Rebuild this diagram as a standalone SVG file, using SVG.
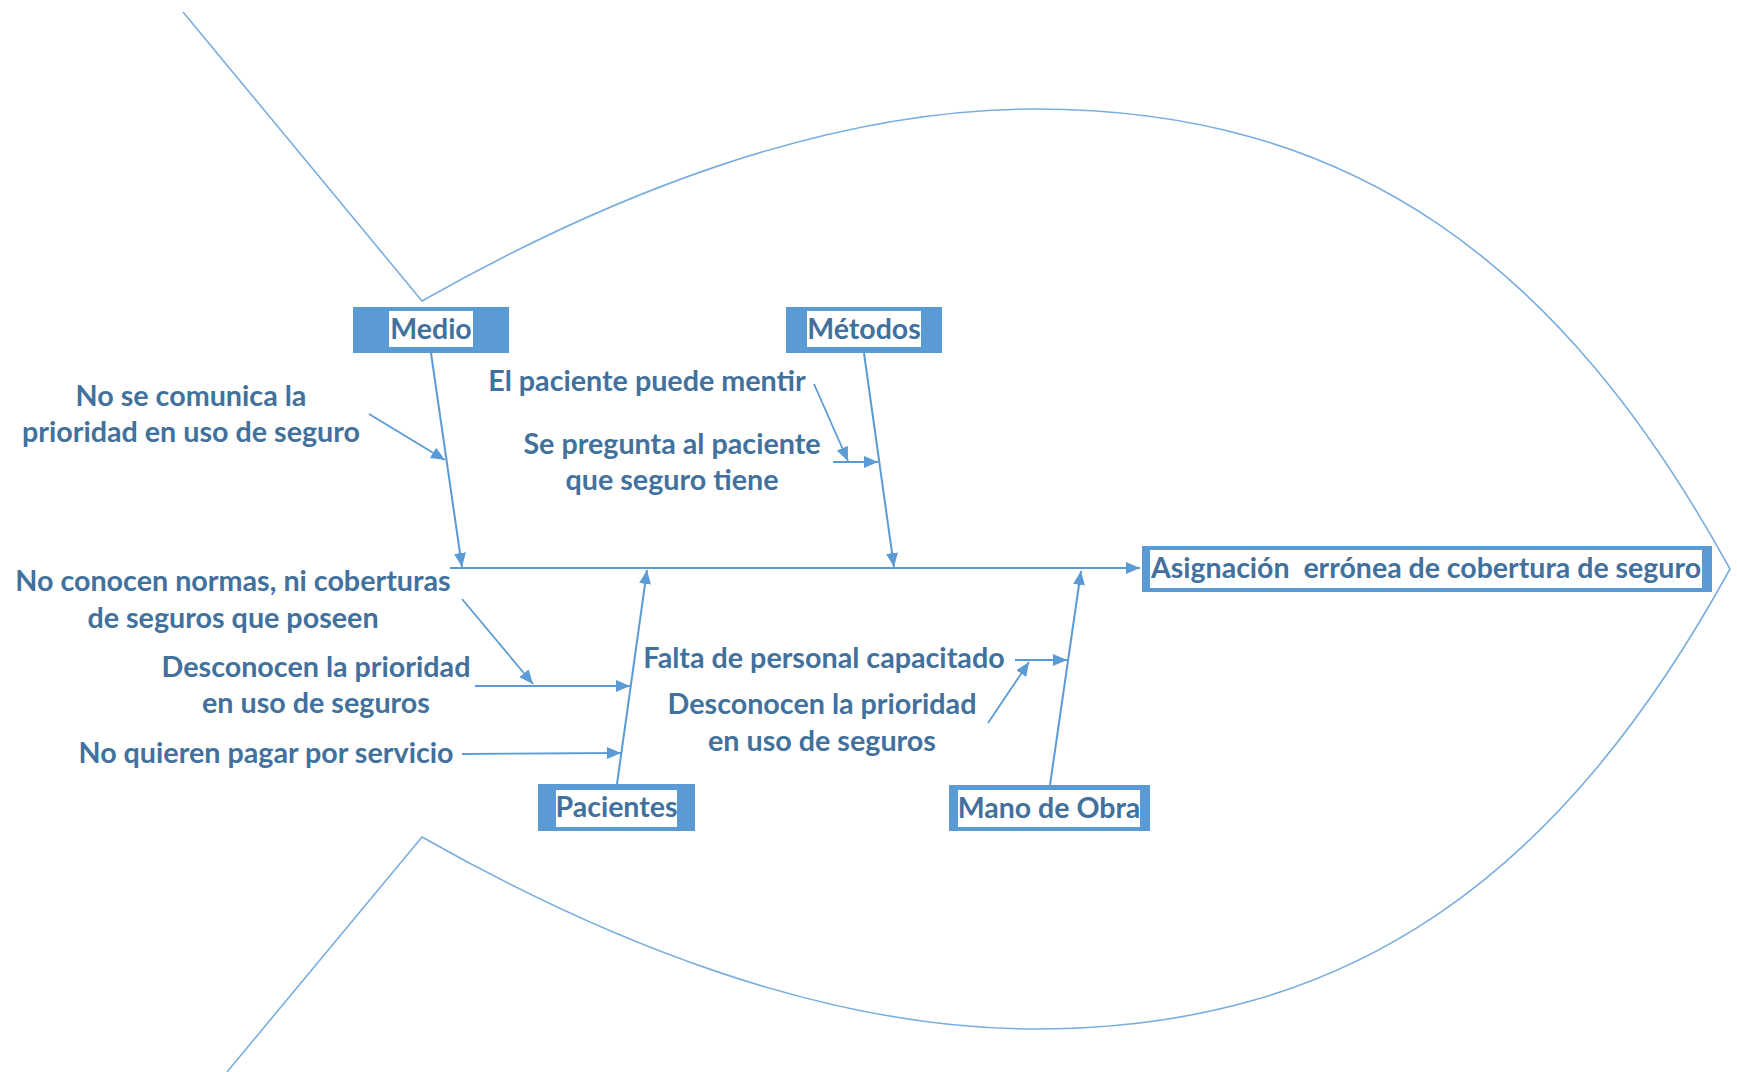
<svg xmlns="http://www.w3.org/2000/svg" width="1737" height="1072" viewBox="0 0 1737 1072">
<style>
.outline{fill:none;stroke:#7AAEDF;stroke-width:1.6}
.rib{fill:none;stroke:#5B9BD5;stroke-width:2}
.sub{fill:none;stroke:#5B9BD5;stroke-width:1.8}
.box{fill:#5B9BD5}
.inner{fill:#fff}
.t{font-family:Lato,"Liberation Sans",sans-serif;font-weight:bold;font-size:28.7px;fill:#41719C;text-anchor:middle}
.bt{font-family:Lato,"Liberation Sans",sans-serif;font-weight:bold;font-size:28.5px;fill:#41719C;text-anchor:middle;white-space:pre}
</style>
<defs>
<marker id="ah" markerUnits="userSpaceOnUse" markerWidth="16" markerHeight="12" refX="14" refY="6" orient="auto">
<path d="M0,0 L14,6 L0,12 Z" fill="#5B9BD5"/>
</marker>
</defs>
<rect width="1737" height="1072" fill="#fff"/>
<g id="fish">
<path class="outline" d="M183,12 L422,301 C600,200 820,109 1035,109 C1350,109 1560,260 1730,569 C1560,878 1350,1029 1035,1029 C820,1029 600,938 422,837 L227,1072"/>
</g>
<g id="connectors">
<line class="rib" x1="450" y1="568" x2="1140" y2="568" marker-end="url(#ah)"/>
<line class="rib" x1="431" y1="353" x2="462" y2="567" marker-end="url(#ah)"/>
<line class="rib" x1="864" y1="353" x2="894" y2="567" marker-end="url(#ah)"/>
<line class="rib" x1="617" y1="784" x2="647" y2="570" marker-end="url(#ah)"/>
<line class="rib" x1="1050" y1="785" x2="1081" y2="571" marker-end="url(#ah)"/>
<line class="sub" x1="369" y1="414" x2="445" y2="460" marker-end="url(#ah)"/>
<line class="sub" x1="814" y1="384" x2="848" y2="461" marker-end="url(#ah)"/>
<line class="sub" x1="833" y1="462" x2="878" y2="462" marker-end="url(#ah)"/>
<line class="sub" x1="462" y1="599" x2="533" y2="684" marker-end="url(#ah)"/>
<line class="sub" x1="475" y1="686" x2="630" y2="686" marker-end="url(#ah)"/>
<line class="sub" x1="462" y1="754" x2="621" y2="753" marker-end="url(#ah)"/>
<line class="sub" x1="1015" y1="660" x2="1067" y2="660" marker-end="url(#ah)"/>
<line class="sub" x1="988" y1="723" x2="1029" y2="662" marker-end="url(#ah)"/>
</g>
<g id="medio">
<rect class="box" x="353" y="307" width="156" height="46"/>
<rect class="inner" x="389" y="311" width="84" height="36"/>
<text class="bt" x="431" y="339">Medio</text>
</g>
<g id="metodos">
<rect class="box" x="786" y="307" width="156" height="46"/>
<rect class="inner" x="807" y="311" width="114" height="36"/>
<text class="bt" x="864" y="339">Métodos</text>
</g>
<g id="pacientes">
<rect class="box" x="538" y="784" width="157" height="47"/>
<rect class="inner" x="556" y="790" width="121" height="37"/>
<text class="bt" x="616.5" y="817">Pacientes</text>
</g>
<g id="manodeobra">
<rect class="box" x="949" y="785" width="201" height="46"/>
<rect class="inner" x="958" y="790" width="182" height="37"/>
<text class="bt" x="1049" y="818">Mano de Obra</text>
</g>
<g id="efecto">
<rect class="box" x="1142" y="546" width="570" height="46"/>
<rect class="inner" x="1150" y="550" width="552" height="38"/>
<text class="bt" x="1426" y="578">Asignación  errónea de cobertura de seguro</text>
</g>
<g id="causas">
<text class="t" x="191" y="406">No se comunica la</text>
<text class="t" x="191" y="442">prioridad en uso de seguro</text>
<text class="t" x="647" y="391">El paciente puede mentir</text>
<text class="t" x="672" y="454">Se pregunta al paciente</text>
<text class="t" x="672" y="490">que seguro tiene</text>
<text class="t" x="233" y="591">No conocen normas, ni coberturas</text>
<text class="t" x="233" y="628">de seguros que poseen</text>
<text class="t" x="316" y="677">Desconocen la prioridad</text>
<text class="t" x="316" y="713">en uso de seguros</text>
<text class="t" x="266" y="763">No quieren pagar por servicio</text>
<text class="t" x="824" y="668">Falta de personal capacitado</text>
<text class="t" x="822" y="714">Desconocen la prioridad</text>
<text class="t" x="822" y="751">en uso de seguros</text>
</g>
</svg>
